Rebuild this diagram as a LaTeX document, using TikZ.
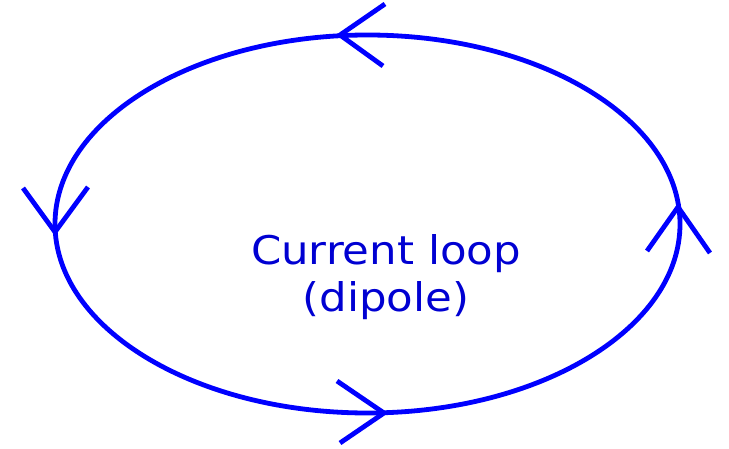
\documentclass[tikz,border=0pt]{standalone}
\usepackage{fontspec}
\setmainfont[FakeStretch=1.1]{DejaVu Sans}
\begin{document}
\begin{tikzpicture}[x=1pt,y=-1pt,
  loopline/.style={draw={rgb,255:red,0;green,0;blue,255}, line width=4.8pt},
  armline/.style={draw={rgb,255:red,0;green,0;blue,255}, line width=4.8pt, line join=miter},
  label/.style={text={rgb,255:red,0;green,0;blue,210}, font=\fontsize{39.5}{47}\selectfont, align=center, inner sep=0pt}]
\useasboundingbox (0,0) rectangle (729,449);
\draw[loopline] (367.5,224) ellipse [x radius=312.5, y radius=189];
% top arrow (pointing left)
\coordinate (t) at (340,35);
\coordinate (t1) at (385,4);
\coordinate (t2) at (383,66);
\draw[armline] (t1) -- (t) -- (t2);
% left arrow (pointing down)
\coordinate (l) at (55,232);
\coordinate (l1) at (23,188);
\coordinate (l2) at (88,187);
\draw[armline] (l1) -- (l) -- (l2);
% right arrow (pointing up)
\coordinate (r) at (678,207);
\coordinate (r1) at (647,251);
\coordinate (r2) at (710,253);
\draw[armline] (r1) -- (r) -- (r2);
% bottom arrow (pointing right)
\coordinate (b) at (384,413);
\coordinate (b1) at (337,381);
\coordinate (b2) at (340,443);
\draw[armline] (b1) -- (b) -- (b2);
\node[label] (txt) at (386,277) {Current loop\\(dipole)};
\end{tikzpicture}
\end{document}
